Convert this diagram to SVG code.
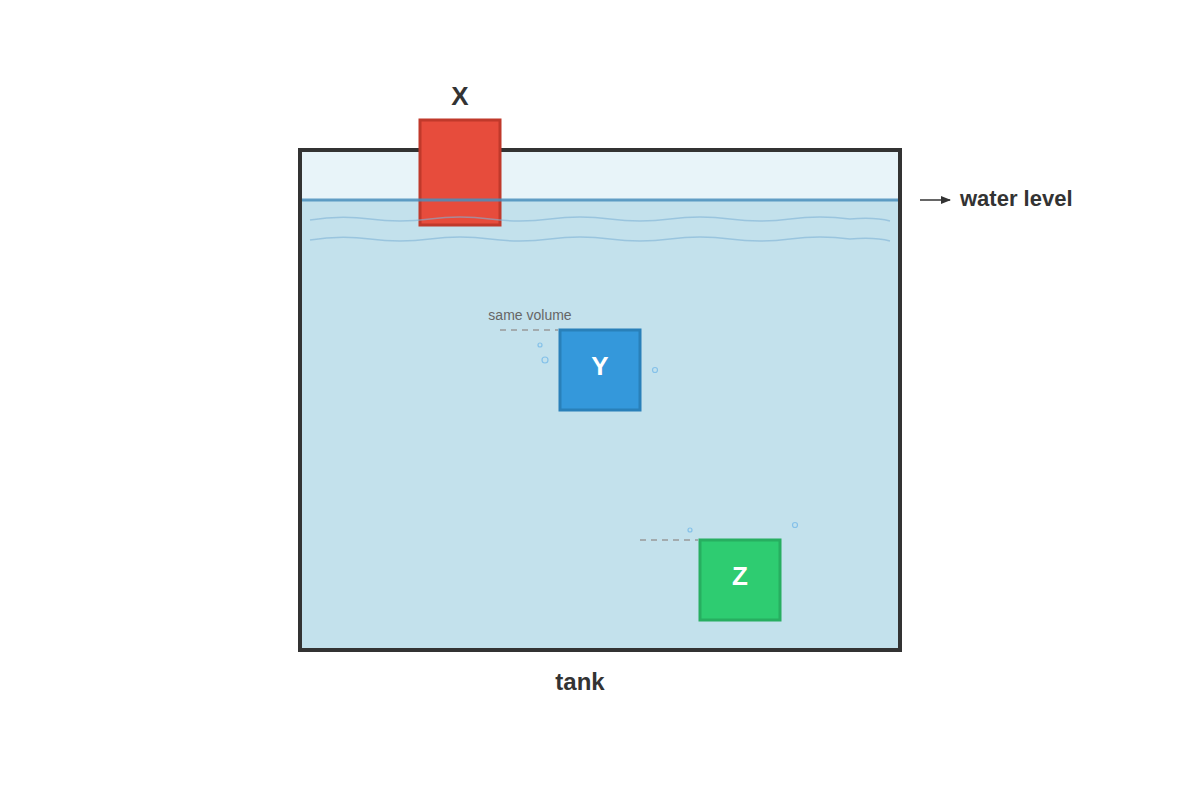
<svg xmlns="http://www.w3.org/2000/svg" width="1200" height="800" viewBox="0 0 1200 800">
  <style>
    .lbl { font-family: "Liberation Sans", Arial, sans-serif; font-weight: bold; fill: #333; }
    .box-text { font-family: "Liberation Sans", Arial, sans-serif; font-weight: bold; fill: #fff; font-size: 26px; text-anchor: middle; }
    .wave { fill: none; stroke: #7fb3d5; stroke-width: 1.5; opacity: 0.6; }
    .bubble { fill: none; stroke: #85c1e9; stroke-width: 1.2; }
    .dash { stroke: #999; stroke-width: 1.5; stroke-dasharray: 6,5; }
  </style>
  <defs>
    <marker id="arrow" markerWidth="10" markerHeight="8" refX="9" refY="4" orient="auto" markerUnits="userSpaceOnUse">
      <path d="M0,0 L10,4 L0,8 Z" fill="#333"/>
    </marker>
  </defs>
  <rect width="1200" height="800" fill="#fff"/>

  <g id="tank">
    <rect x="300" y="150" width="600" height="50" fill="#e8f4f9"/>
    <rect x="300" y="200" width="600" height="450" fill="#c3e1ec"/>
    <rect x="300" y="150" width="600" height="500" fill="none" stroke="#333" stroke-width="4"/>
  </g>

  <g id="X">
    <rect x="420" y="120" width="80" height="105" fill="#e74c3c" stroke="#c0392b" stroke-width="3"/>
  </g>

  <g id="water">
    <line x1="302" y1="200" x2="898" y2="200" stroke="#4a8fbd" stroke-width="3" opacity="0.85"/>
    <path class="wave" d="M310,220 Q340,215 370,219 T430,219 T490,219 T550,219 T610,219 T670,219 T730,219 T790,219 T850,219 Q875,217 890,221"/>
    <path class="wave" d="M310,240 Q340,235 370,239 T430,239 T490,239 T550,239 T610,239 T670,239 T730,239 T790,239 T850,239 Q875,237 890,241"/>
  </g>

  <g id="Y">
    <rect x="560" y="330" width="80" height="80" fill="#3498db" stroke="#2980b9" stroke-width="3"/>
    <text class="box-text" x="600" y="375">Y</text>
  </g>

  <g id="Z">
    <rect x="700" y="540" width="80" height="80" fill="#2ecc71" stroke="#27ae60" stroke-width="3"/>
    <text class="box-text" x="740" y="585">Z</text>
  </g>

  <g id="bubbles">
    <circle class="bubble" cx="540" cy="345" r="2"/>
    <circle class="bubble" cx="545" cy="360" r="3"/>
    <circle class="bubble" cx="655" cy="370" r="2.5"/>
    <circle class="bubble" cx="690" cy="530" r="2"/>
    <circle class="bubble" cx="795" cy="525" r="2.5"/>
  </g>

  <g id="connectors">
    <line class="dash" x1="500" y1="330" x2="558" y2="330"/>
    <line class="dash" x1="640" y1="540" x2="698" y2="540"/>
    <line x1="920" y1="200" x2="950" y2="200" stroke="#333" stroke-width="1.5" marker-end="url(#arrow)"/>
  </g>

  <g id="labels">
    <text class="lbl" x="460" y="105" font-size="26" text-anchor="middle">X</text>
    <text x="530" y="320" font-family="Liberation Sans, Arial, sans-serif" font-size="14" fill="#666" text-anchor="middle">same volume</text>
    <text class="lbl" x="960" y="206" font-size="22">water level</text>
    <text class="lbl" x="580" y="690" font-size="24" text-anchor="middle">tank</text>
  </g>
</svg>
